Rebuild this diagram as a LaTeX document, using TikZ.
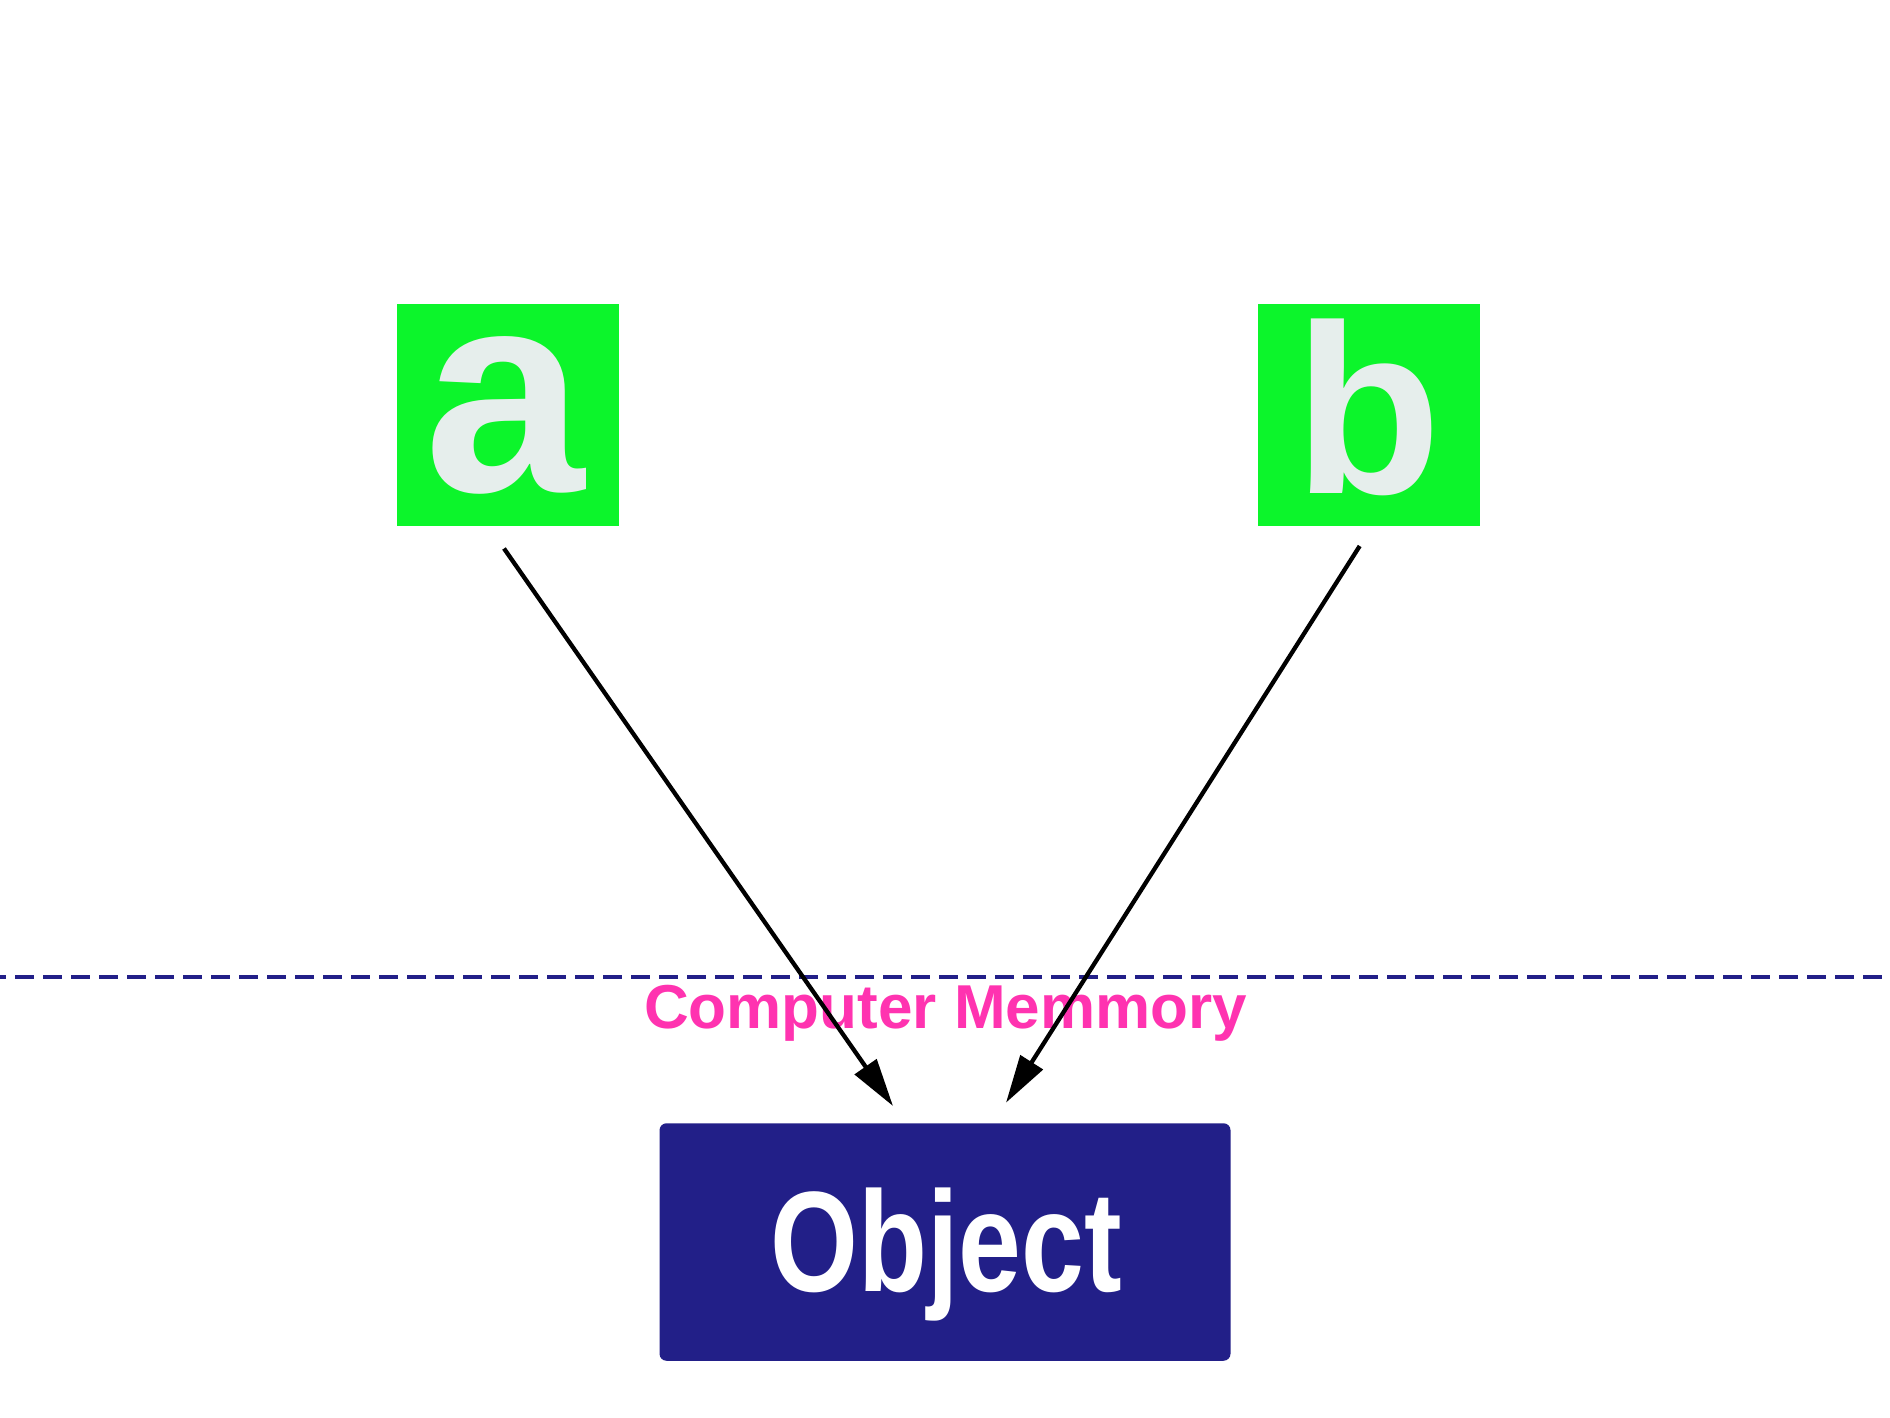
\documentclass[tikz,border=0pt]{standalone}
\usepackage{fontspec}
\setmainfont{Liberation Sans}
\usetikzlibrary{arrows.meta}
\definecolor{vargreen}{HTML}{0CF52B}
\definecolor{letterfill}{HTML}{E6EEEC}
\definecolor{memnavy}{HTML}{221F88}
\definecolor{mempink}{HTML}{FF33B0}
\begin{document}
\begin{tikzpicture}[x=1pt,y=-1pt,
  varbox/.style={fill=vargreen, draw=none, minimum width=222pt, minimum height=222pt, inner sep=0pt},
  varletter/.style={text=letterfill, anchor=base, inner sep=0pt},
  objbox/.style={fill=memnavy, draw=none, rounded corners=7pt, minimum width=571pt, minimum height=237.5pt, inner sep=0pt},
  objtext/.style={text=white, anchor=base, inner sep=0pt, font=\fontsize{143}{143}\selectfont\bfseries},
  memlabel/.style={text=mempink, anchor=base, inner sep=0pt, font=\fontsize{62}{62}\selectfont\bfseries},
  refarrow/.style={draw=black, line width=4.3pt, -{Triangle[length=48pt,width=26pt]}},
  memline/.style={draw=memnavy, line width=4.6pt, dash pattern=on 18.7pt off 9.3pt, dash phase=12.7pt}
]
\useasboundingbox (0,0) rectangle (1890,1417);
\fill[white] (0,0) rectangle (1890,1417);
% variable boxes
\node[varbox] (a) at (507.5,414.7) {};
\node[varbox] (b) at (1369.3,414.7) {};
\node[varletter, font=\fontsize{288}{288}\selectfont\bfseries] (la) at (505,491) {a};
\node[varletter, font=\fontsize{241}{241}\selectfont\bfseries] (lb) at (1368,493) {b};
% memory line
\coordinate (memL) at (0,977);
\coordinate (memR) at (1890,977);
\draw[memline] (memL) -- (memR);
\node[memlabel] (mem) at (945.6,1028) {Computer Memmory};
% object
\node[objbox] (obj) at (945,1242) {};
\node[objtext] (objt) at (946,1291) {\scalebox{0.79}[1]{Object}};
% arrows
\coordinate (aout) at (504,548.5);
\coordinate (ainto) at (893,1106);
\coordinate (bout) at (1359.7,546);
\coordinate (binto) at (1006,1102.7);
\draw[refarrow] (aout) -- (ainto);
\draw[refarrow] (bout) -- (binto);
\end{tikzpicture}
\end{document}
